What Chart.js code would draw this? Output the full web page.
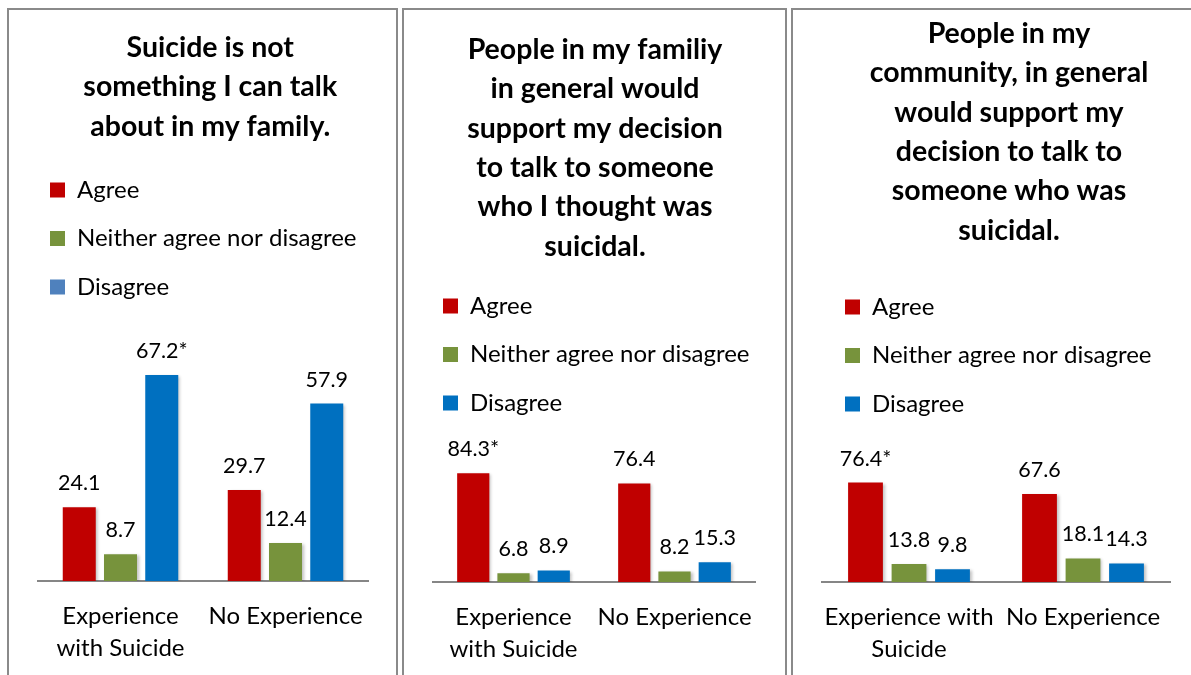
<!DOCTYPE html>
<html>
<head>
<meta charset="utf-8">
<script src="https://cdn.jsdelivr.net/npm/chart.js@4.4.1/dist/chart.umd.min.js"></script>
<style>
  html, body { margin: 0; padding: 0; background: #fff; }
  body { width: 1191px; height: 675px; position: relative; overflow: hidden; }
  .panel { position: absolute; top: 8px; height: 720px; border: 2px solid #8a8a8a; box-sizing: border-box; overflow: hidden; }
  .panel canvas { position: absolute; left: 0; top: 0; }
  #p1 { left: 7px; width: 391px; }
  #p2 { left: 402px; width: 385px; }
  #p3 { left: 791px; width: 430px; }
</style>
</head>
<body>
<div class="panel" id="p1"><canvas id="chart1" width="387" height="690"></canvas></div>
<div class="panel" id="p2"><canvas id="chart2" width="381" height="690"></canvas></div>
<div class="panel" id="p3"><canvas id="chart3" width="426" height="690"></canvas></div>
<script>
// Данные
const seriesNames = ['Agree', 'Neither agree nor disagree', 'Disagree'];
const seriesColours = ['#C00000', '#77933C', '#0070C0'];
const firstLegendColours = ['#C00000', '#77933C', '#4F81BD'];

const familyTalkTitle = ['Suicide is not', 'something I can talk', 'about in my family.'];
const familyTalkCategories = [['Experience', 'with Suicide'], 'No Experience'];
const familyTalkAgree = [24.1, 29.7];
const familyTalkNeither = [8.7, 12.4];
const familyTalkDisagree = [67.2, 57.9];
const familyTalkMarks = [['', ''], ['', ''], ['*', '']];

const familySupportTitle = ['People in my familiy', 'in general would', 'support my decision', 'to talk to someone', 'who I thought was', 'suicidal.'];
const familySupportCategories = [['Experience', 'with Suicide'], 'No Experience'];
const familySupportAgree = [84.3, 76.4];
const familySupportNeither = [6.8, 8.2];
const familySupportDisagree = [8.9, 15.3];
const familySupportMarks = [['*', ''], ['', ''], ['', '']];

const communityTitle = ['People in my', 'community, in general', 'would support my', 'decision to talk to', 'someone who was', 'suicidal.'];
const communityCategories = [['Experience with', 'Suicide'], 'No Experience'];
const communityAgree = [76.4, 67.6];
const communityNeither = [13.8, 18.1];
const communityDisagree = [9.8, 14.3];
const communityMarks = [['*', ''], ['', ''], ['', '']];

Chart.defaults.font.family = 'Lato';
Chart.defaults.color = '#000';

// Тень под столбцами
const barShadow = {
    id: 'barShadow',
    beforeDatasetsDraw(chart) {
        const ctx = chart.ctx;
        ctx.save();
        ctx.shadowColor = 'rgba(0, 0, 0, 0.25)';
        ctx.shadowBlur = 3;
        ctx.shadowOffsetX = 2;
        ctx.shadowOffsetY = 1;
    },
    afterDatasetsDraw(chart) {
        chart.ctx.restore();
    }
};

// Подписи значений над столбцами
const valueLabels = {
    id: 'valueLabels',
    afterDatasetsDraw(chart) {
        const ctx = chart.ctx;
        const marks = chart.options.plugins.valueLabels.marks;
        ctx.save();
        ctx.font = '21.5px Lato';
        ctx.fillStyle = '#000';
        ctx.textAlign = 'center';
        ctx.textBaseline = 'middle';
        chart.data.datasets.forEach((ds, i) => {
            chart.getDatasetMeta(i).data.forEach((bar, j) => {
                ctx.fillText(ds.data[j].toFixed(1) + marks[i][j], bar.x, bar.y - 24);
            });
        });
        ctx.restore();
    }
};

function buildChart(id, s) {
    const legendColours = s.legendColours || seriesColours;
    return new Chart(document.getElementById(id), {
        type: 'bar',
        data: {
            labels: s.categories,
            datasets: s.series.map((data, i) => ({
                label: seriesNames[i],
                data: data,
                backgroundColor: seriesColours[i],
                borderWidth: 0,
                categoryPercentage: 0.75,
                barPercentage: 0.8
            }))
        },
        options: {
            responsive: false,
            animation: false,
            layout: { padding: s.padding },
            scales: {
                x: {
                    grid: { display: false, drawTicks: false },
                    border: { display: true, color: '#868686', width: 2 },
                    ticks: { padding: 19, color: '#000', font: { size: 24, lineHeight: 1.333 }, maxRotation: 0, autoSkip: false }
                },
                y: {
                    min: 0,
                    max: s.yMax,
                    grid: { display: false, drawTicks: false },
                    border: { display: false },
                    ticks: { display: false },
                    afterFit(scale) { scale.width = s.leftGap; }
                },
                yRight: {
                    position: 'right',
                    grid: { display: false, drawTicks: false },
                    border: { display: false },
                    ticks: { display: false },
                    afterFit(scale) { scale.width = s.rightGap; }
                }
            },
            plugins: {
                title: {
                    display: true,
                    text: s.title,
                    color: '#000',
                    font: { size: 28.5, weight: 'bold', lineHeight: 1.379 },
                    padding: s.titlePadding
                },
                // пустой подзаголовок как отступ между легендой и областью графика
                subtitle: {
                    display: true,
                    text: '',
                    weight: 500,
                    font: { size: 1, lineHeight: 1 },
                    padding: { top: s.legendGap, bottom: 0 }
                },
                legend: {
                    position: 'top',
                    align: 'start',
                    labels: {
                        boxWidth: 15,
                        boxHeight: 15,
                        padding: 24.5,
                        color: '#000',
                        font: { size: 24 },
                        generateLabels(chart) {
                            return chart.data.datasets.map((ds, i) => ({
                                text: ds.label,
                                fillStyle: legendColours[i],
                                strokeStyle: legendColours[i],
                                lineWidth: 0,
                                datasetIndex: i
                            }));
                        }
                    }
                },
                tooltip: { enabled: false },
                valueLabels: { marks: s.marks }
            }
        },
        plugins: [barShadow, valueLabels]
    });
}

buildChart('chart1', {
    title: familyTalkTitle,
    categories: familyTalkCategories,
    series: [familyTalkAgree, familyTalkNeither, familyTalkDisagree],
    marks: familyTalkMarks,
    legendColours: firstLegendColours,
    yMax: 80,
    titlePadding: { top: 18.3, bottom: 7.2 },
    legendGap: 26,
    padding: { left: 16.5, right: 1, top: 0, bottom: 17 },
    leftGap: 12.5,
    rightGap: 27
});

buildChart('chart2', {
    title: familySupportTitle,
    categories: familySupportCategories,
    series: [familySupportAgree, familySupportNeither, familySupportDisagree],
    marks: familySupportMarks,
    yMax: 100,
    titlePadding: { top: 20.3, bottom: 3.3 },
    legendGap: 27,
    padding: { left: 14.5, right: 13.5, top: 0, bottom: 16 },
    leftGap: 14.5,
    rightGap: 16.5
});

buildChart('chart3', {
    title: communityTitle,
    categories: communityCategories,
    series: [communityAgree, communityNeither, communityDisagree],
    marks: communityMarks,
    yMax: 100,
    titlePadding: { top: 4.3, bottom: 20.3 },
    legendGap: 25,
    padding: { left: 27.5, right: 21.5, top: 0, bottom: 16 },
    leftGap: 1.5,
    rightGap: 27.5
});
</script>
</body>
</html>
